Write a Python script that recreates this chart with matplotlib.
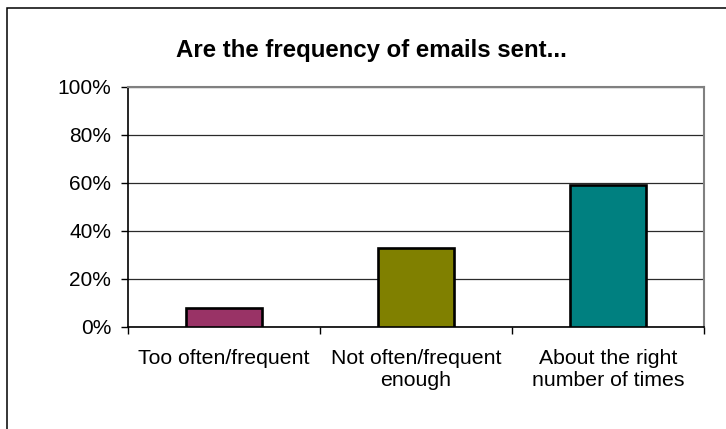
import matplotlib
matplotlib.use("Agg")
import matplotlib.pyplot as plt
from matplotlib.patches import Rectangle
from matplotlib.ticker import FixedLocator, FuncFormatter

categories = ["Too often/frequent", "Not often/frequent\nenough", "About the right\nnumber of times"]
values = [8, 33, 59]
colors = ["#993366", "#808000", "#008080"]
yticks = [0, 20, 40, 60, 80, 100]
title = "Are the frequency of emails sent..."

plt.rcParams['font.family'] = ['Liberation Sans', 'DejaVu Sans']

W, H = 726, 429
fig = plt.figure(figsize=(W / 100, H / 100), dpi=100)
ax = fig.add_axes([128 / W, 1 - 326.7 / H, (704 - 128) / W, (326.7 - 86.7) / H])

x = list(range(len(categories)))
ax.bar(x, values, width=0.4, color=colors, edgecolor="black", linewidth=1.9, zorder=3)

ax.set_xlim(-0.5, len(categories) - 0.5)
ax.set_ylim(0, 100)
ax.set_yticks(yticks)
ax.yaxis.set_major_formatter(FuncFormatter(lambda v, p: f"{int(v)}%"))
ax.grid(axis="y", color="#2a2a2a", linewidth=0.9, zorder=1)
ax.set_axisbelow(True)

ax.set_xticks(x)
ax.set_xticklabels(categories, fontsize=15.3, linespacing=1.2)
ax.xaxis.set_minor_locator(FixedLocator([i - 0.5 for i in range(len(categories) + 1)]))
ax.tick_params(axis="x", which="major", length=0, pad=16)
ax.tick_params(axis="x", which="minor", length=5, width=1, direction="out", color="black")
ax.tick_params(axis="y", which="major", length=5, width=1, direction="out", labelsize=15, pad=7, color="black")

for s in ["left", "bottom"]:
    ax.spines[s].set_color("black")
    ax.spines[s].set_linewidth(1.2)
for s in ["top", "right"]:
    ax.spines[s].set_color("#808080")
    ax.spines[s].set_linewidth(1.5)

fig.text(371 / W, 1 - 50 / H, title, ha="center", va="center", fontsize=17.3, fontweight="bold")

fig.patches.append(Rectangle((7 / W, -0.2), 1.5, 0.2 + (H - 8) / H,
                             transform=fig.transFigure, fill=False, edgecolor="black", linewidth=1.1))

fig.savefig("out.png", dpi=100, facecolor="white")
